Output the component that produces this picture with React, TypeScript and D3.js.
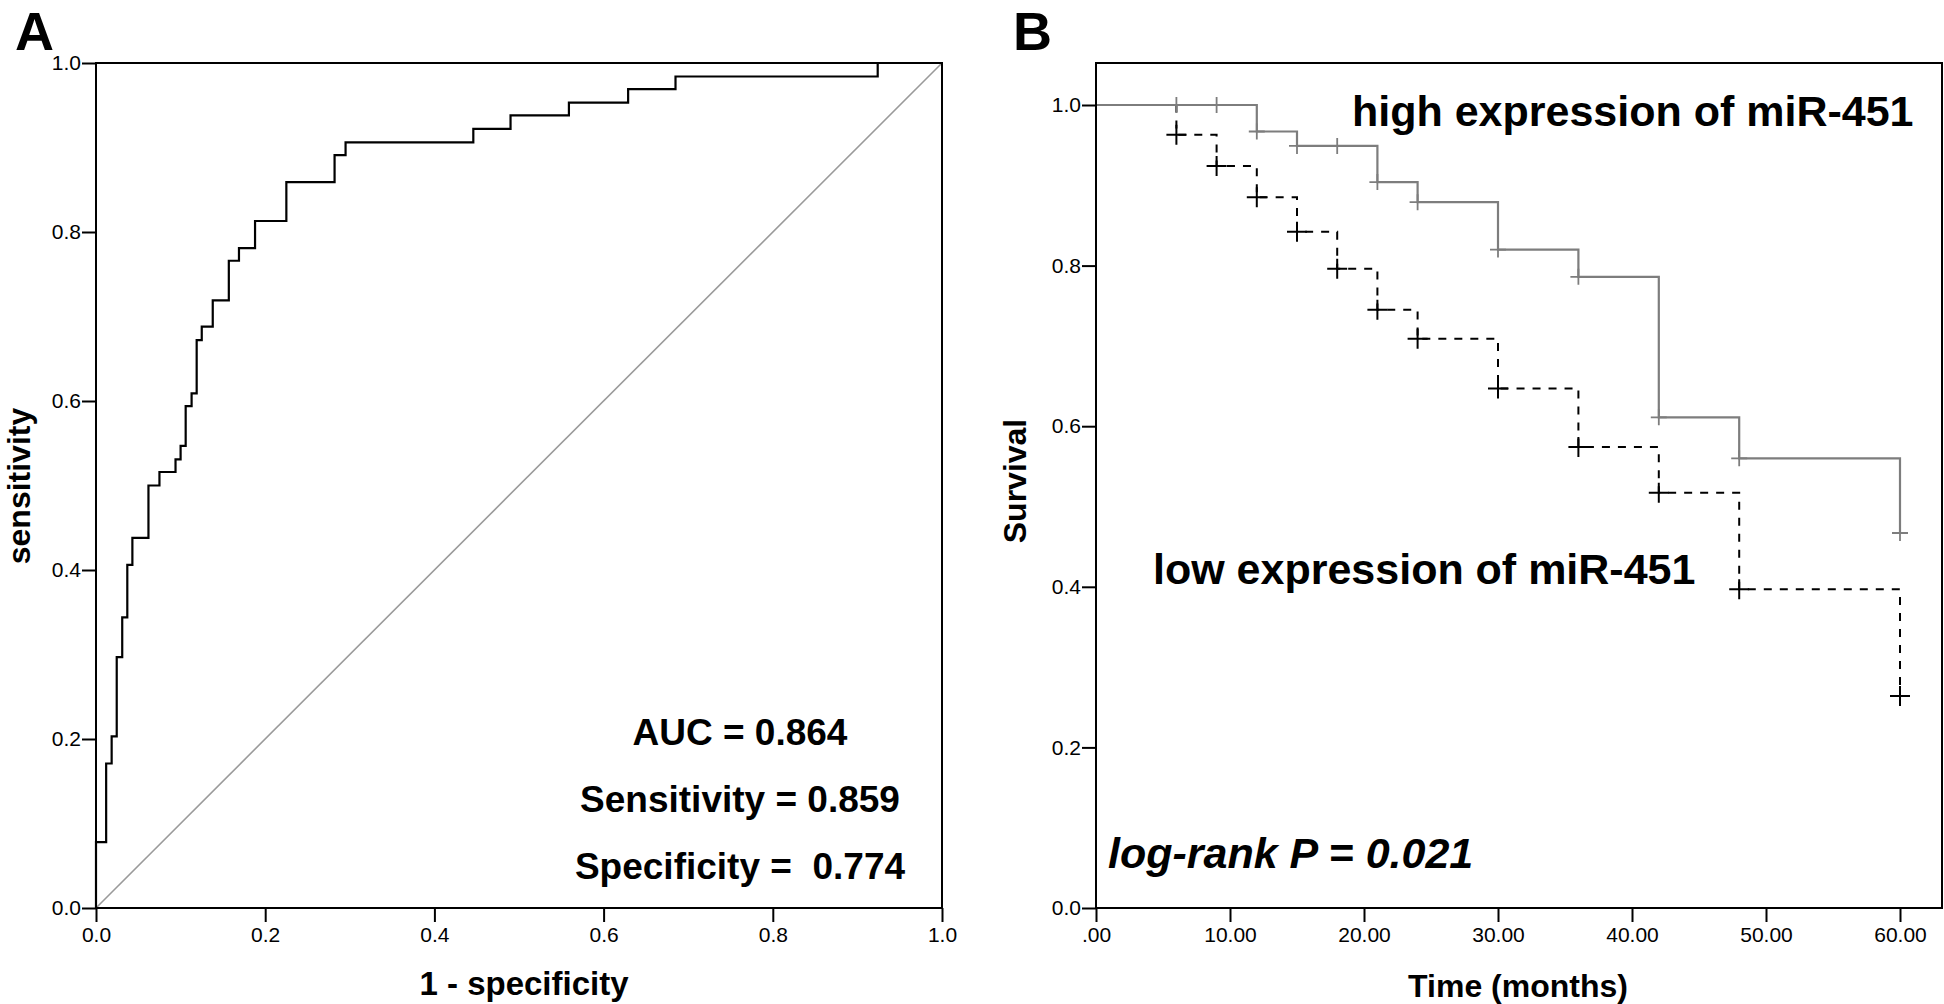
import React, { useRef, useEffect } from 'react';
import * as d3 from 'd3';

// Panel A: ROC curve, step vertices (1 - specificity, sensitivity)
const rocFpr = [0, 0, 0.012, 0.0185, 0.0245, 0.031, 0.037, 0.043, 0.062, 0.075, 0.094, 0.1, 0.106, 0.113, 0.119, 0.125, 0.138, 0.157, 0.169, 0.188, 0.225, 0.282, 0.295, 0.446, 0.49, 0.559, 0.629, 0.685, 0.924, 1.0];
const rocTpr = [0, 0.078, 0.171, 0.203, 0.297, 0.344, 0.406, 0.438, 0.5, 0.516, 0.531, 0.547, 0.594, 0.609, 0.672, 0.688, 0.719, 0.766, 0.781, 0.813, 0.859, 0.891, 0.906, 0.922, 0.938, 0.953, 0.969, 0.984, 1.0, 1.0];

// Panel B: Kaplan-Meier curves
const highTimes = [0, 12, 15, 21, 24, 30, 36, 42, 48, 60];
const highSurv = [1.0, 0.967, 0.949, 0.904, 0.879, 0.82, 0.786, 0.611, 0.56, 0.467];
const highCensor = [6, 9, 12, 15, 18, 21, 24, 30, 36, 42, 48, 60];

const lowTimes = [0, 6, 9, 12, 15, 18, 21, 24, 30, 36, 42, 48, 60];
const lowSurv = [1.0, 0.963, 0.924, 0.885, 0.842, 0.796, 0.745, 0.709, 0.647, 0.574, 0.517, 0.397, 0.264];
const lowCensor = [6, 9, 12, 15, 18, 21, 24, 30, 36, 42, 48, 60];

const unitTicks = [0, 0.2, 0.4, 0.6, 0.8, 1.0];
const monthTicks = [0, 10, 20, 30, 40, 50, 60];

const rocStats = ['AUC = 0.864', 'Sensitivity = 0.859', 'Specificity =  0.774'];

const FONT = '"Liberation Sans", Arial, Helvetica, sans-serif';
const WIDTH = 1944;
const HEIGHT = 1004;

const App = () => {
  const svgRef = useRef<SVGSVGElement>(null);

  useEffect(() => {
    document.body.style.margin = '0';
    if (!svgRef.current) return;
    const svg = d3.select(svgRef.current);
    svg.selectAll('*').remove();

    const styleAxis = (g: any) => {
      g.attr('font-size', 21).attr('font-family', FONT);
      g.select('.domain').remove();
      g.selectAll('.tick line').attr('stroke', '#000').attr('stroke-width', 2);
      g.selectAll('.tick text').attr('fill', '#000');
    };

    const bold = (sel: any, size: number) =>
      sel.attr('font-family', FONT).attr('font-weight', 'bold').attr('font-size', size).attr('fill', '#000');

    // ---------- Panel A ----------
    const boxA = { left: 96, right: 942, top: 63, bottom: 908 };
    const xA = d3.scaleLinear().domain([0, 1]).range([boxA.left, boxA.right]);
    const yA = d3.scaleLinear().domain([0, 1]).range([boxA.bottom, boxA.top]);

    svg.append('g')
      .attr('transform', `translate(${boxA.left},0)`)
      .call(d3.axisLeft(yA).tickValues(unitTicks).tickFormat(d3.format('.1f')).tickSize(14).tickPadding(1))
      .call(styleAxis);

    svg.append('g')
      .attr('transform', `translate(0,${boxA.bottom})`)
      .call(d3.axisBottom(xA).tickValues(unitTicks).tickFormat(d3.format('.1f')).tickSize(14).tickPadding(5))
      .call(styleAxis);

    // reference diagonal
    svg.append('line')
      .attr('x1', xA(0)).attr('y1', yA(0)).attr('x2', xA(1)).attr('y2', yA(1))
      .attr('stroke', '#9a9a9a').attr('stroke-width', 1.6);

    const rocPts = rocFpr.map((f, i) => [f, rocTpr[i]] as [number, number]);
    svg.append('path')
      .attr('d', d3.line<[number, number]>().x(d => xA(d[0])).y(d => yA(d[1])).curve(d3.curveStepAfter)(rocPts))
      .attr('fill', 'none').attr('stroke', '#000').attr('stroke-width', 2.2);

    svg.append('rect')
      .attr('x', boxA.left).attr('y', boxA.top)
      .attr('width', boxA.right - boxA.left).attr('height', boxA.bottom - boxA.top)
      .attr('fill', 'none').attr('stroke', '#000').attr('stroke-width', 2);

    svg.append('text').text('A').attr('x', 15).attr('y', 50).call(bold, 54);

    svg.append('text').text('sensitivity')
      .attr('transform', 'translate(30,486) rotate(-90)')
      .attr('text-anchor', 'middle').call(bold, 32);

    svg.append('text').text('1 - specificity')
      .attr('x', 524).attr('y', 995)
      .attr('text-anchor', 'middle').call(bold, 33);

    svg.append('g').selectAll('text')
      .data(rocStats)
      .enter()
      .append('text')
      .text(d => d)
      .attr('x', 740)
      .attr('y', (d, i) => 745 + i * 67)
      .attr('text-anchor', 'middle')
      .style('white-space', 'pre')
      .call(bold, 37);

    // ---------- Panel B ----------
    const boxB = { left: 1096, right: 1942, top: 63, bottom: 908 };
    const xB = d3.scaleLinear().domain([0, 60]).range([boxB.left, 1900]);
    const yB = d3.scaleLinear().domain([0, 1]).range([boxB.bottom, 105]);

    svg.append('g')
      .attr('transform', `translate(${boxB.left},0)`)
      .call(d3.axisLeft(yB).tickValues(unitTicks).tickFormat(d3.format('.1f')).tickSize(14).tickPadding(1))
      .call(styleAxis);

    svg.append('g')
      .attr('transform', `translate(0,${boxB.bottom})`)
      .call(d3.axisBottom(xB).tickValues(monthTicks)
        .tickFormat((d: any) => (d === 0 ? '.00' : d3.format('.2f')(d)))
        .tickSize(14).tickPadding(5))
      .call(styleAxis);

    const kmLine = d3.line<[number, number]>().x(d => xB(d[0])).y(d => yB(d[1])).curve(d3.curveStepAfter);
    const survAt = (times: number[], surv: number[], t: number) => surv[d3.bisectRight(times, t) - 1];
    const plus = (t: number, s: number, r: number) => {
      const cx = xB(t), cy = yB(s);
      return `M${cx - r},${cy}H${cx + r}M${cx},${cy - r}V${cy + r}`;
    };

    // low expression: dashed black
    svg.append('path')
      .attr('d', kmLine(lowTimes.map((t, i) => [t, lowSurv[i]] as [number, number])))
      .attr('fill', 'none').attr('stroke', '#000').attr('stroke-width', 2)
      .attr('stroke-dasharray', '8,8');
    svg.append('path')
      .attr('d', lowCensor.map(t => plus(t, survAt(lowTimes, lowSurv, t), 10)).join(''))
      .attr('fill', 'none').attr('stroke', '#000').attr('stroke-width', 2);

    // high expression: solid grey
    svg.append('path')
      .attr('d', kmLine(highTimes.map((t, i) => [t, highSurv[i]] as [number, number])))
      .attr('fill', 'none').attr('stroke', '#7d7d7d').attr('stroke-width', 2.2);
    svg.append('path')
      .attr('d', highCensor.map(t => plus(t, survAt(highTimes, highSurv, t), 8)).join(''))
      .attr('fill', 'none').attr('stroke', '#7d7d7d').attr('stroke-width', 1.8);

    svg.append('rect')
      .attr('x', boxB.left).attr('y', boxB.top)
      .attr('width', boxB.right - boxB.left).attr('height', boxB.bottom - boxB.top)
      .attr('fill', 'none').attr('stroke', '#000').attr('stroke-width', 2);

    svg.append('text').text('B').attr('x', 1013).attr('y', 50).call(bold, 54);

    svg.append('text').text('Survival')
      .attr('transform', 'translate(1026,481) rotate(-90)')
      .attr('text-anchor', 'middle').call(bold, 32);

    svg.append('text').text('Time (months)')
      .attr('x', 1518).attr('y', 997)
      .attr('text-anchor', 'middle').call(bold, 32);

    svg.append('text').text('high expression of miR-451')
      .attr('x', 1352).attr('y', 126).call(bold, 43);

    svg.append('text').text('low expression of miR-451')
      .attr('x', 1153).attr('y', 584).call(bold, 43);

    svg.append('text').text('log-rank P = 0.021')
      .attr('x', 1108).attr('y', 868)
      .attr('font-style', 'italic').call(bold, 43);
  }, []);

  return (
    <svg ref={svgRef} width={WIDTH} height={HEIGHT} style={{ display: 'block', background: '#fff' }} />
  );
};

export default App;
